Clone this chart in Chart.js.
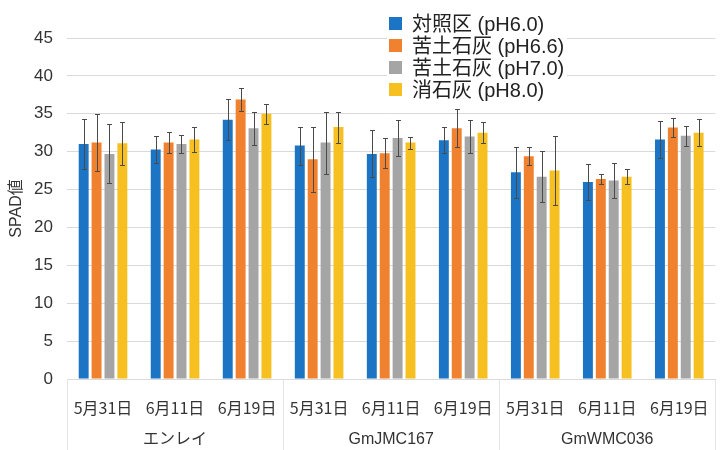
<!DOCTYPE html>
<html>
<head>
<meta charset="utf-8">
<script src="https://cdn.jsdelivr.net/npm/chart.js@4"></script>
<style>
  body { margin: 0; background: #fff; }
  #wrap { width: 728px; height: 450px; }
</style>
</head>
<body>
<div id="wrap"><canvas id="myChart" width="728" height="450"></canvas></div>
<script>
// 日付ラベル (品種ごとに3回)
var dates = ['5月31日', '6月11日', '6月19日', '5月31日', '6月11日', '6月19日', '5月31日', '6月11日', '6月19日'];
var varieties = ['エンレイ', 'GmJMC167', 'GmWMC036'];

var ctrl = [31.0, 30.3, 34.2, 30.8, 29.7, 31.5, 27.3, 26.0, 31.6];
var ctrlErr = [3.35, 1.8, 2.7, 2.5, 3.1, 1.7, 3.35, 2.4, 2.4];
var mg66 = [31.2, 31.2, 36.9, 29.0, 29.8, 33.1, 29.4, 26.4, 33.2];
var mg66Err = [3.8, 1.4, 1.5, 4.3, 2.0, 2.5, 1.15, 0.7, 1.3];
var mg70 = [29.7, 31.0, 33.1, 31.2, 31.8, 32.0, 26.7, 26.2, 32.1];
var mg70Err = [3.9, 1.2, 2.2, 4.1, 2.4, 2.2, 3.4, 2.3, 1.3];
var slaked = [31.1, 31.6, 35.0, 33.25, 31.2, 32.5, 27.5, 26.7, 32.5];
var slakedErr = [2.8, 1.7, 1.3, 2.05, 0.8, 1.4, 4.6, 1.0, 1.8];

var JP = '"Noto Sans CJK JP", sans-serif';
var MIX = '"Liberation Sans", "Noto Sans CJK JP", sans-serif';

// 誤差棒
var errorBars = {
  id: 'errorBars',
  afterDatasetsDraw(chart) {
    var ctx = chart.ctx;
    var y = chart.scales.y;
    ctx.save();
    ctx.strokeStyle = '#4a4a4a';
    ctx.lineWidth = 1;
    chart.data.datasets.forEach((ds, i) => {
      var meta = chart.getDatasetMeta(i);
      meta.data.forEach((bar, j) => {
        var v = ds.data[j], e = ds.err[j];
        var bx = Math.round(bar.x) + 0.5;
        var yt = Math.round(y.getPixelForValue(v + e)) + 0.5, yb = Math.round(y.getPixelForValue(v - e)) + 0.5;
        ctx.beginPath();
        ctx.moveTo(bx, yt); ctx.lineTo(bx, yb);
        ctx.moveTo(bx - 2.5, yt); ctx.lineTo(bx + 2.5, yt);
        ctx.moveTo(bx - 2.5, yb); ctx.lineTo(bx + 2.5, yb);
        ctx.stroke();
      })
    })
    ctx.restore();
  }
};

// 品種ラベルと区切り線, 凡例
var extras = {
  id: 'extras',
  afterDraw(chart) {
    var ctx = chart.ctx;
    var x = chart.scales.x;
    var area = chart.chartArea;
    var step = (area.right - area.left) / dates.length;
    ctx.save();
    ctx.strokeStyle = '#e4e4e4';
    ctx.lineWidth = 1;
    for (var k = 0; k <= 3; k++) {
      var sx = Math.round(area.left + step * 3 * k) + 0.5;
      ctx.beginPath();
      ctx.moveTo(sx, area.bottom);
      ctx.lineTo(sx, 450);
      ctx.stroke();
    }
    ctx.fillStyle = '#333';
    ctx.font = '16px ' + MIX;
    ctx.textAlign = 'center';
    ctx.textBaseline = 'middle';
    varieties.forEach((name, k) => {
      ctx.fillText(name, x.getPixelForValue(k * 3 + 1), 440);
    })

    // 凡例
    ctx.fillStyle = '#fff';
    ctx.fillRect(387, 10, 180, 92);
    ctx.font = '20px ' + MIX;
    ctx.textAlign = 'left';
    chart.data.datasets.forEach((ds, i) => {
      var cy = 24 + i * 22;
      ctx.fillStyle = ds.backgroundColor;
      ctx.fillRect(389, cy - 7, 13, 13);
      ctx.fillStyle = '#222';
      ctx.fillText(ds.label, 412, cy + 1);
    })
    ctx.restore();
  }
};

new Chart('myChart', {
  type: 'bar',
  data: {
    labels: dates,
    datasets: [
      { label: '対照区 (pH6.0)', data: ctrl, err: ctrlErr, backgroundColor: '#1c74c4' },
      { label: '苦土石灰 (pH6.6)', data: mg66, err: mg66Err, backgroundColor: '#f0812e' },
      { label: '苦土石灰 (pH7.0)', data: mg70, err: mg70Err, backgroundColor: '#a5a5a5' },
      { label: '消石灰 (pH8.0)', data: slaked, err: slakedErr, backgroundColor: '#f6c020' }
    ]
  },
  options: {
    responsive: false,
    animation: false,
    categoryPercentage: 0.716,
    barPercentage: 0.77,
    layout: { padding: { top: 38, right: 7, left: 0, bottom: 0 } },
    plugins: {
      legend: { display: false },
      tooltip: { enabled: false }
    },
    scales: {
      x: {
        grid: { display: false, drawTicks: false },
        border: { display: false },
        ticks: { color: '#333', font: { size: 16, family: JP }, padding: 19, maxRotation: 0, autoSkip: false },
        afterFit(scale) { scale.height = 71; }
      },
      y: {
        min: 0,
        max: 45,
        grid: { color: '#d9d9d9', drawTicks: false },
        border: { display: false },
        ticks: { stepSize: 5, color: '#333', font: { size: 17, family: MIX }, padding: 14 },
        title: { display: true, text: 'SPAD値', color: '#333', font: { size: 16, family: MIX }, padding: { top: 7, bottom: 0 } },
        afterFit(scale) { scale.width = 67; }
      }
    }
  },
  plugins: [errorBars, extras]
});
</script>
</body>
</html>
